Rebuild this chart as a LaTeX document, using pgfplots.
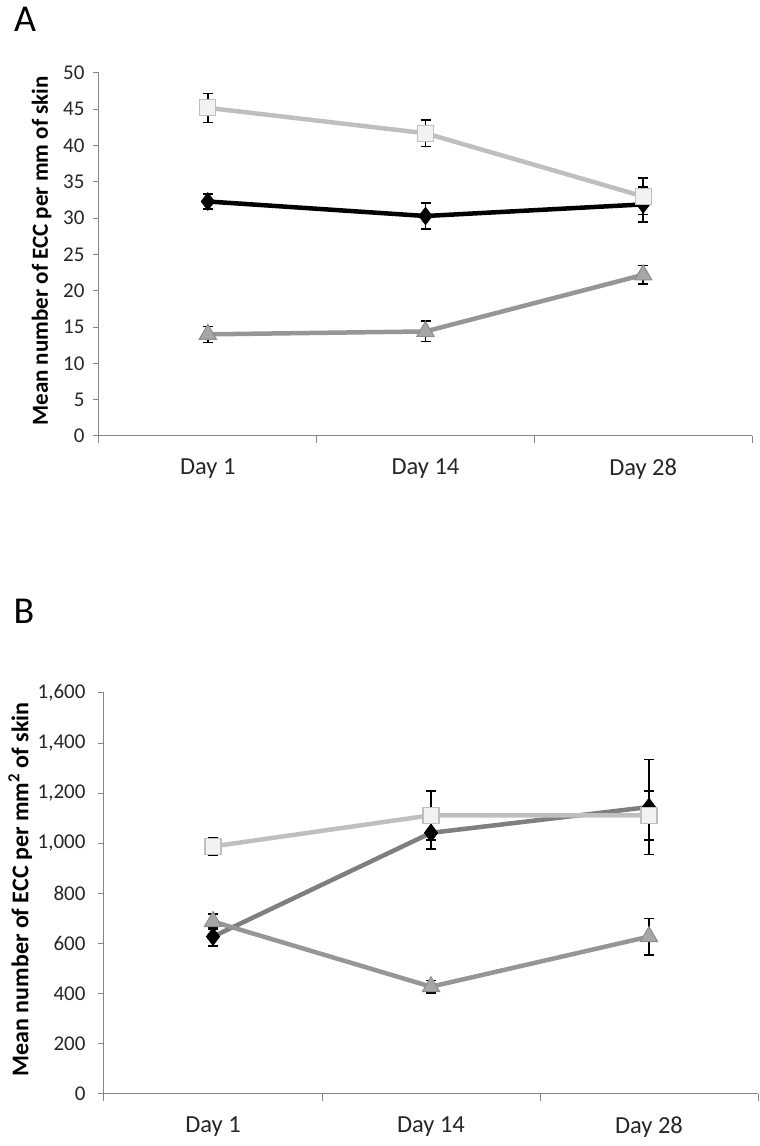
\documentclass[border=0pt]{standalone}
\usepackage{pgfplots}
\usepackage{pgfplotstable}
\pgfplotsset{compat=1.18}
\usepackage{fontspec}
\setmainfont{Carlito}

\definecolor{axisgray}{HTML}{868686}
\definecolor{sqline}{HTML}{BFBFBF}
\definecolor{sqfill}{HTML}{F2F2F2}
\definecolor{triline}{HTML}{969696}
\definecolor{trifill}{HTML}{A6A6A6}
\definecolor{triedge}{HTML}{8C8C8C}
\definecolor{dialineB}{HTML}{7F7F7F}

\pgfplotstableread{
x y e
0 45.2 2.0
1 41.7 1.8
2 33.0 2.5
}\Asq
\pgfplotstableread{
x y e
0 32.3 1.0
1 30.3 1.8
2 31.9 2.4
}\Adia
\pgfplotstableread{
x y e
0 14.0 1.1
1 14.4 1.4
2 22.2 1.3
}\Atri
\pgfplotstableread{
x y e
0 988 35
1 1112 98
2 1112 98
}\Bsq
\pgfplotstableread{
x y e
0 628 37
1 1042 65
2 1145 190
}\Bdia
\pgfplotstableread{
x y e
0 688 30
1 428 25
2 628 73
}\Btri

\pgfplotsset{
  exstyle/.style={
    scale only axis, width=655pt,
    xmin=-0.5, xmax=2.5, ymin=0,
    axis x line*=bottom, axis y line*=left,
    axis line style={axisgray, line width=1pt},
    xtick={0,1,2}, xticklabels={Day 1,Day 14,Day 28},
    major x tick style={draw=none},
    minor xtick={-0.5,0.5,1.5,2.5},
    minor x tick style={axisgray, line width=1pt},
    minor tick length=7pt,
    major tick length=6pt,
    major y tick style={axisgray, line width=1pt},
    tick align=outside,
    /pgf/number format/assume math mode=true,
    yticklabel style={font=\fontsize{21}{25}\selectfont, text=black!85},
    xticklabel style={font=\fontsize{24.5}{29}\selectfont, text=black!85, yshift=-13pt},
    ylabel style={anchor=center},
    clip=false,
    error bars/y dir=both, error bars/y explicit,
    error bars/error bar style={black, line width=1.6pt},
    error bars/error mark options={black, rotate=90, mark size=5pt, line width=1.6pt},
  },
  sqstyle/.style={sqline, line width=4.5pt, mark=square*, mark size=8pt,
    mark options={fill=sqfill, draw=sqline, line width=1.2pt}},
  tristyle/.style={triline, line width=4.5pt, mark=triangle*, mark size=10pt,
    mark options={fill=trifill, draw=triedge, line width=1pt}},
}

\begin{document}
\begin{tikzpicture}
\useasboundingbox (0,0) rectangle (760pt,1146pt);
\node[font=\fontsize{38}{42}\selectfont] at (25pt,1127pt) {A};
\node[font=\fontsize{38}{42}\selectfont] at (24pt,535pt) {B};

\begin{axis}[exstyle, at={(99pt,710pt)}, anchor=south west,
  width=653pt,
  height=363pt, ymax=50, ytick distance=5,
  yticklabel style={xshift=-5pt},
  ylabel={Mean number of ECC per mm of skin},
  ylabel style={font=\bfseries\fontsize{23}{27}\selectfont, at={(axis description cs:-0.088,0.51)}}]
\addplot[tristyle] table[x=x,y=y,y error=e] {\Atri};
\addplot[black, line width=4.5pt, mark=diamond*, mark size=9pt,
  mark options={fill=black, draw=black, line width=0.5pt}] table[x=x,y=y,y error=e] {\Adia};
\addplot[sqstyle] table[x=x,y=y,y error=e] {\Asq};
\end{axis}

\begin{axis}[exstyle, at={(104pt,52pt)}, anchor=south west,
  width=654pt,
  height=401pt, ymax=1600, ytick distance=200,
  yticklabel style={xshift=-9pt, /pgf/number format/.cd, 1000 sep={,}},
  ylabel={Mean number of ECC per mm\textsuperscript{2} of skin},
  ylabel style={font=\bfseries\fontsize{24}{28}\selectfont, at={(axis description cs:-0.128,0.51)}}]
\addplot[dialineB, line width=4.5pt, mark=diamond*, mark size=9pt,
  mark options={fill=black, draw=black, line width=0.5pt}] table[x=x,y=y,y error=e] {\Bdia};
\addplot[tristyle] table[x=x,y=y,y error=e] {\Btri};
\addplot[sqstyle] table[x=x,y=y,y error=e] {\Bsq};
\end{axis}
\end{tikzpicture}
\end{document}
